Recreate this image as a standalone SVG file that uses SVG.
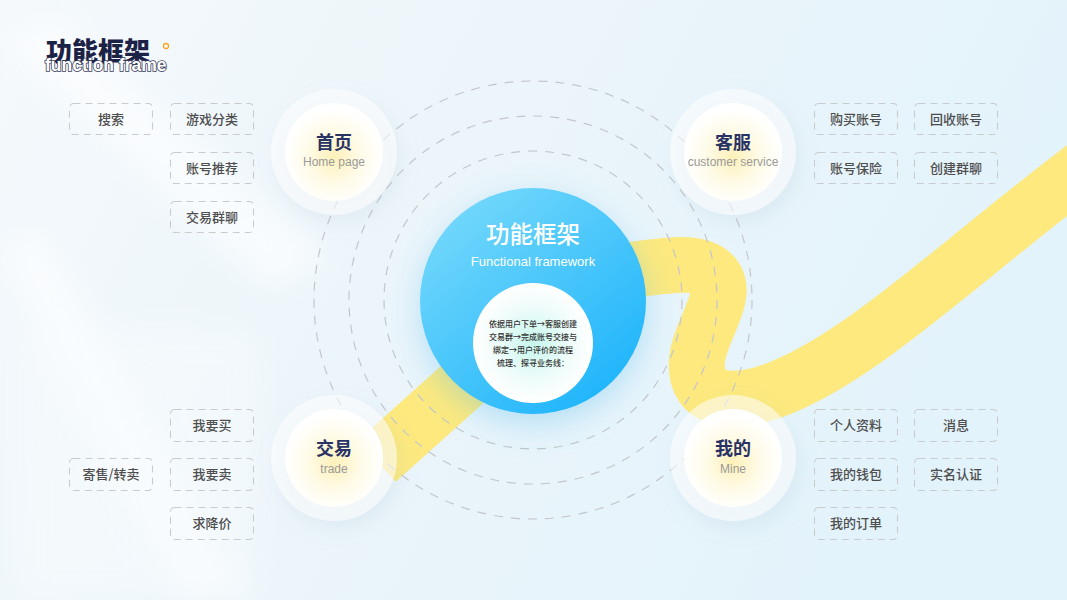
<svg xmlns="http://www.w3.org/2000/svg" width="1067" height="600" viewBox="0 0 1067 600">
<defs>
<linearGradient id="bg" x1="0" y1="0" x2="1" y2="0.3">
<stop offset="0" stop-color="#f5f9fc"/>
<stop offset="0.45" stop-color="#ecf5fa"/>
<stop offset="1" stop-color="#e3f3fb"/>
</linearGradient>
<linearGradient id="mainG" x1="0.2" y1="0.1" x2="0.85" y2="0.9">
<stop offset="0" stop-color="#6fd6fb"/>
<stop offset="1" stop-color="#20b5fb"/>
</linearGradient>
<radialGradient id="nodeG" cx="0.5" cy="0.55" r="0.5">
<stop offset="0" stop-color="#fdf0b8"/>
<stop offset="0.55" stop-color="#fffbe8"/>
<stop offset="1" stop-color="#ffffff"/>
</radialGradient>
<radialGradient id="innerG" cx="0.5" cy="0.5" r="0.5">
<stop offset="0" stop-color="#c6f6ec"/>
<stop offset="0.6" stop-color="#eefcfa"/>
<stop offset="1" stop-color="#ffffff"/>
</radialGradient>
<filter id="haloSh" x="-50%" y="-50%" width="200%" height="200%">
<feDropShadow dx="5" dy="8" stdDeviation="9" flood-color="#8fb0c6" flood-opacity="0.25"/>
</filter>
<filter id="mainSh" x="-50%" y="-50%" width="200%" height="200%">
<feDropShadow dx="0" dy="10" stdDeviation="16" flood-color="#4fb8ee" flood-opacity="0.35"/>
</filter>
<filter id="blur"><feGaussianBlur stdDeviation="14"/></filter>
<style>
.box{fill:none;stroke:#c9cbcd;stroke-width:1.1;stroke-dasharray:7 5}
.bt{font-family:"Noto Sans CJK SC","Liberation Sans",sans-serif;font-size:13px;font-weight:500;fill:#4e4e4e;text-anchor:middle}
.ring{fill:none;stroke:#c3c7cb;stroke-width:1.2;stroke-dasharray:9 8}
.halo{fill:#ffffff;fill-opacity:0.55}
.nt{font-family:"Noto Sans CJK SC",sans-serif;font-size:18px;font-weight:700;fill:#283265;text-anchor:middle}
.ns{font-family:"Liberation Sans","Noto Sans CJK SC",sans-serif;font-size:12px;fill:#9a9a9a;text-anchor:middle}
.it{font-family:"Noto Sans CJK SC",sans-serif;font-size:8px;font-weight:500;fill:#333;text-anchor:middle}
</style>
</defs>
<rect width="1067" height="600" fill="url(#bg)"/>
<g filter="url(#blur)" fill="#ffffff" opacity="0.6">
<polygon points="0,40 60,20 330,260 270,290"/>
<polygon points="0,250 40,230 250,600 180,600"/>
<rect x="20" y="330" width="240" height="270" opacity="0.5"/>
</g>

<g id="title">
<text x="46" y="61" font-family="Noto Sans CJK SC,sans-serif" font-size="26" font-weight="900" fill="#1c2146">功能框架</text>
<text x="45" y="71" font-family="Liberation Sans,sans-serif" font-size="17.5" font-weight="700" fill="#ffffff" stroke="#3b405e" stroke-width="1.6" paint-order="stroke">function frame</text>
<circle cx="166" cy="46" r="2.5" fill="#fff" stroke="#f5a623" stroke-width="1.3"/>
</g>

<g id="bands" fill="none" stroke="#fde97e" stroke-width="56">
<path d="M600 274 C655 268 697 256 714 276 C730 296 700 330 697 360 C694 395 720 405 760 395 C850 370 960 260 1090 163"/>
<line x1="495" y1="355" x2="377" y2="461"/>
</g>

<g id="rings">
<circle class="ring" cx="533" cy="300" r="149"/>
<circle class="ring" cx="533" cy="300" r="184"/>
<circle class="ring" cx="533" cy="300" r="219"/>
</g>

<g id="node-home">
<circle class="halo" cx="334" cy="152" r="63" filter="url(#haloSh)"/>
<circle cx="334" cy="152" r="49" fill="url(#nodeG)"/>
<text class="nt" x="334" y="149">首页</text>
<text class="ns" x="334" y="166">Home page</text>
</g>
<g id="node-service">
<circle class="halo" cx="733" cy="152" r="63" filter="url(#haloSh)"/>
<circle cx="733" cy="152" r="49" fill="url(#nodeG)"/>
<text class="nt" x="733" y="149">客服</text>
<text class="ns" x="733" y="166">customer service</text>
</g>
<g id="node-trade">
<circle class="halo" cx="334" cy="458" r="63" filter="url(#haloSh)"/>
<circle cx="334" cy="458" r="49" fill="url(#nodeG)"/>
<text class="nt" x="334" y="455">交易</text>
<text class="ns" x="334" y="473">trade</text>
</g>
<g id="node-mine">
<circle class="halo" cx="733" cy="458" r="63" filter="url(#haloSh)"/>
<circle cx="733" cy="458" r="49" fill="url(#nodeG)"/>
<text class="nt" x="733" y="455">我的</text>
<text class="ns" x="733" y="473">Mine</text>
</g>

<g id="node-center">
<circle cx="533" cy="301" r="113" fill="url(#mainG)" filter="url(#mainSh)"/>
<text x="533" y="243" font-family="Noto Sans CJK SC,sans-serif" font-size="23.5" font-weight="500" fill="#ffffff" text-anchor="middle">功能框架</text>
<text x="533" y="266" font-family="Liberation Sans,sans-serif" font-size="13" fill="#ffffff" text-anchor="middle">Functional framework</text>
<circle cx="533" cy="343" r="60" fill="url(#innerG)"/>
<text class="it" x="533" y="327">依据用户下单→客服创建</text>
<text class="it" x="533" y="340">交易群→完成账号交接与</text>
<text class="it" x="533" y="353">绑定→用户评价的流程</text>
<text class="it" x="533" y="366">梳理、探寻业务线：</text>
</g>

<g id="boxes-home">
<rect class="box" x="69.5" y="103.5" width="83" height="31" rx="4"/><text class="bt" x="111" y="123.5">搜索</text>
<rect class="box" x="170.5" y="103.5" width="83" height="31" rx="4"/><text class="bt" x="212" y="123.5">游戏分类</text>
<rect class="box" x="170.5" y="152.5" width="83" height="31" rx="4"/><text class="bt" x="212" y="172.5">账号推荐</text>
<rect class="box" x="170.5" y="201.5" width="83" height="31" rx="4"/><text class="bt" x="212" y="221.5">交易群聊</text>
</g>
<g id="boxes-service">
<rect class="box" x="814.5" y="103.5" width="83" height="31" rx="4"/><text class="bt" x="856" y="123.5">购买账号</text>
<rect class="box" x="914.5" y="103.5" width="83" height="31" rx="4"/><text class="bt" x="956" y="123.5">回收账号</text>
<rect class="box" x="814.5" y="152.5" width="83" height="31" rx="4"/><text class="bt" x="856" y="172.5">账号保险</text>
<rect class="box" x="914.5" y="152.5" width="83" height="31" rx="4"/><text class="bt" x="956" y="172.5">创建群聊</text>
</g>
<g id="boxes-trade">
<rect class="box" x="170.5" y="409.5" width="83" height="32" rx="4"/><text class="bt" x="212" y="430">我要买</text>
<rect class="box" x="69.5" y="458.5" width="83" height="32" rx="4"/><text class="bt" x="111" y="479">寄售/转卖</text>
<rect class="box" x="170.5" y="458.5" width="83" height="32" rx="4"/><text class="bt" x="212" y="479">我要卖</text>
<rect class="box" x="170.5" y="507.5" width="83" height="32" rx="4"/><text class="bt" x="212" y="528">求降价</text>
</g>
<g id="boxes-mine">
<rect class="box" x="814.5" y="409.5" width="83" height="32" rx="4"/><text class="bt" x="856" y="430">个人资料</text>
<rect class="box" x="914.5" y="409.5" width="83" height="32" rx="4"/><text class="bt" x="956" y="430">消息</text>
<rect class="box" x="814.5" y="458.5" width="83" height="32" rx="4"/><text class="bt" x="856" y="479">我的钱包</text>
<rect class="box" x="914.5" y="458.5" width="83" height="32" rx="4"/><text class="bt" x="956" y="479">实名认证</text>
<rect class="box" x="814.5" y="507.5" width="83" height="32" rx="4"/><text class="bt" x="856" y="528">我的订单</text>
</g>
</svg>
